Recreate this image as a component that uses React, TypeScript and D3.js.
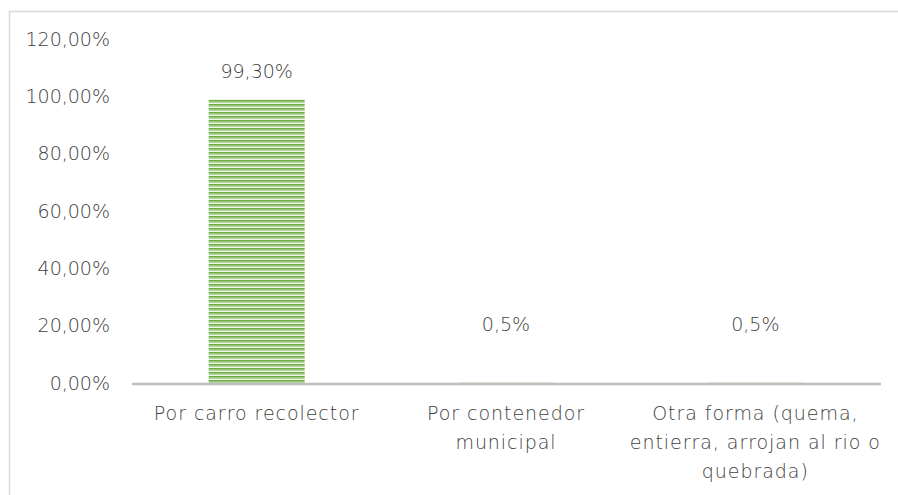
import React from "react";
import * as d3 from "d3";

const categories: string[][] = [
  ["Por carro recolector"],
  ["Por contenedor", "municipal"],
  ["Otra forma (quema,", "entierra, arrojan al rio o", "quebrada)"],
];
const values: number[] = [99.3, 0.5, 0.5];
const valueLabels: string[] = ["99,30%", "0,5%", "0,5%"];
const labelAnchors: number[] = [99.3, 20, 20];
const yTicks: number[] = [0, 20, 40, 60, 80, 100, 120];
const tickFormat = (v: number) => v.toFixed(2).replace(".", ",") + "%";

const W = 898;
const H = 495;
const FONT = "'DejaVu Sans', sans-serif";
const TEXT = "#404040";
const FS = 19;
const FW = 200;

export default function App() {
  const x = d3
    .scaleBand<number>()
    .domain(d3.range(values.length))
    .range([132, 880])
    .paddingInner(0.615)
    .paddingOuter(0.3075);
  const y = d3.scaleLinear().domain([0, 120]).range([384, 40]);

  return (
    <svg
      width={W}
      height={H}
      style={{ position: "absolute", left: 0, top: 0, background: "#fff" }}
    >
      <defs>
        <pattern id="stripes" width={8} height={4} patternUnits="userSpaceOnUse">
          <rect x={0} y={0} width={8} height={4} fill="#c5e0b4" />
          <rect x={0} y={0} width={8} height={1.6} fill="#70ad47" />
          <rect x={0} y={1.6} width={8} height={0.8} fill="#9ccb7f" />
          <rect x={0} y={3} width={8} height={1} fill="#edf5e7" />
        </pattern>
      </defs>
      <rect x={9.5} y={11.5} width={W + 10} height={H + 10} fill="none" stroke="#d9d9d9" strokeWidth={1.5} />
      {yTicks.map((t) => (
        <text
          key={t}
          x={110}
          y={y(t)}
          dy="0.3em"
          textAnchor="end"
          fontFamily={FONT}
          fontWeight={FW}
          fontSize={FS}
          fill={TEXT}
        >
          {tickFormat(t)}
        </text>
      ))}
      {values.map((v, i) => (
        <rect
          key={i}
          x={x(i)}
          y={y(v)}
          width={x.bandwidth()}
          height={y(0) - y(v)}
          fill="url(#stripes)"
        />
      ))}
      <line x1={132} x2={881} y1={y(0)} y2={y(0)} stroke="#bfbfbf" strokeWidth={2.5} />
      {values.map((v, i) => (
        <text
          key={"l" + i}
          x={(x(i) as number) + x.bandwidth() / 2}
          y={y(labelAnchors[i]) - (i === 0 ? 28 : 2)}
          dy="0.35em"
          textAnchor="middle"
          fontFamily={FONT}
          fontWeight={FW}
          fontSize={FS}
          fill={TEXT}
        >
          {valueLabels[i]}
        </text>
      ))}
      {categories.map((lines, i) => (
        <text
          key={"c" + i}
          x={(x(i) as number) + x.bandwidth() / 2}
          y={420}
          textAnchor="middle"
          fontFamily={FONT}
          fontWeight={FW}
          fontSize={FS}
          letterSpacing={0.95}
          fill={TEXT}
        >
          {lines.map((ln, j) => (
            <tspan key={j} x={(x(i) as number) + x.bandwidth() / 2} dy={j === 0 ? 0 : 29}>
              {ln}
            </tspan>
          ))}
        </text>
      ))}
    </svg>
  );
}
